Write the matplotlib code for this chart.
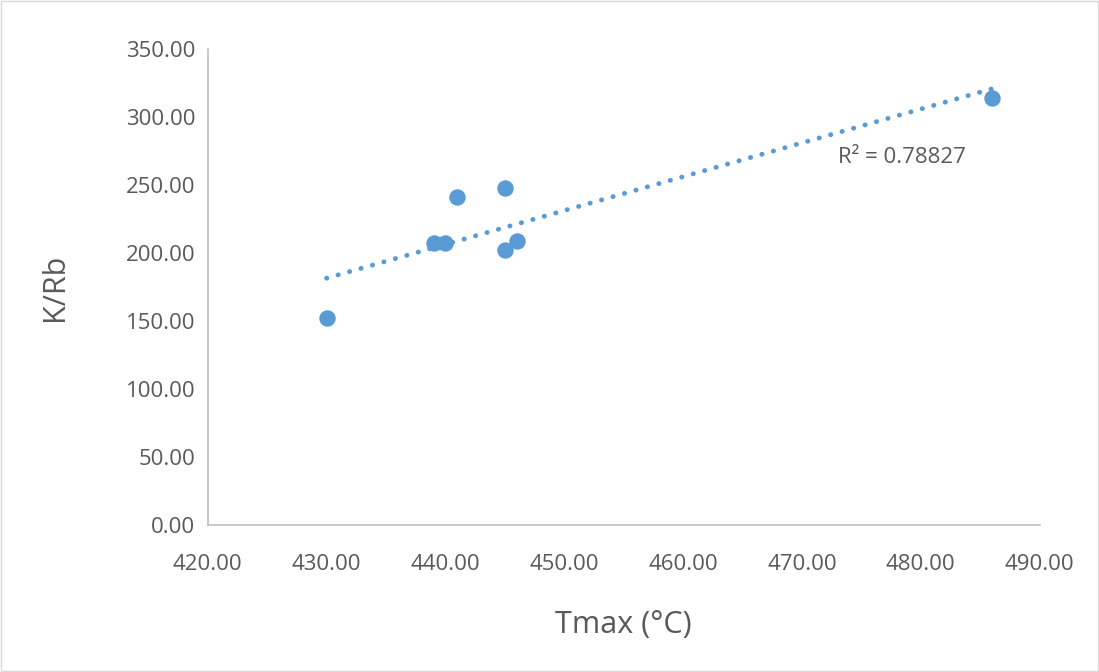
import numpy as np
import matplotlib.pyplot as plt

plt.rcParams['font.family'] = ['Open Sans', 'DejaVu Sans']

tmax = [430, 439, 440, 441, 445, 445, 446, 486]
k_rb = [152, 207, 207, 241, 248, 202, 209, 314]
r2_text = "R² = 0.78827"

blue = "#5b9bd5"
grey = "#595959"

fig = plt.figure(figsize=(10.99, 6.72), dpi=100)
ax = fig.add_axes([0.189, 0.219, 0.757, 0.708])

# linear trendline (least squares, like excel)
x = np.array(tmax, dtype=float)
y = np.array(k_rb, dtype=float)
slope, icpt = np.polyfit(x, y, 1)
xt = np.array([x.min(), x.max()])
ax.plot(xt, slope * xt + icpt, color=blue, lw=3.5, ls=(0, (0.05, 2.4)),
        dash_capstyle='round', zorder=2)

ax.scatter(tmax, k_rb, s=140, color=blue, zorder=3, linewidths=0)

ax.text(473.0, 270, r2_text, fontsize=16, color=grey, ha='left', va='center')

ax.set_xlim(420, 490)
ax.set_ylim(0, 350)
ax.set_xticks(np.arange(420, 491, 10))
ax.set_yticks(np.arange(0, 351, 50))
ax.xaxis.set_major_formatter(lambda v, p: f"{v:.2f}")
ax.yaxis.set_major_formatter(lambda v, p: f"{v:.2f}")
ax.tick_params(length=0, labelsize=16, labelcolor=grey)
ax.tick_params(axis='x', pad=21)
ax.tick_params(axis='y', pad=9)

for s in ['top', 'right']:
    ax.spines[s].set_visible(False)
for s in ['left', 'bottom']:
    ax.spines[s].set_color('#bfbfbf')
    ax.spines[s].set_linewidth(1.2)

ax.set_xlabel("Tmax (°C)", fontsize=22, color=grey)
ax.set_ylabel("K/Rb", fontsize=22, color=grey)
ax.xaxis.set_label_coords(0.5, -0.18)
ax.yaxis.set_label_coords(-0.166, 0.5)

fig.patches.append(plt.Rectangle((0.001, 0.001), 0.998, 0.998, transform=fig.transFigure,
                                 fill=False, edgecolor='#d9d9d9', lw=1))

fig.savefig("out.png", dpi=100)
